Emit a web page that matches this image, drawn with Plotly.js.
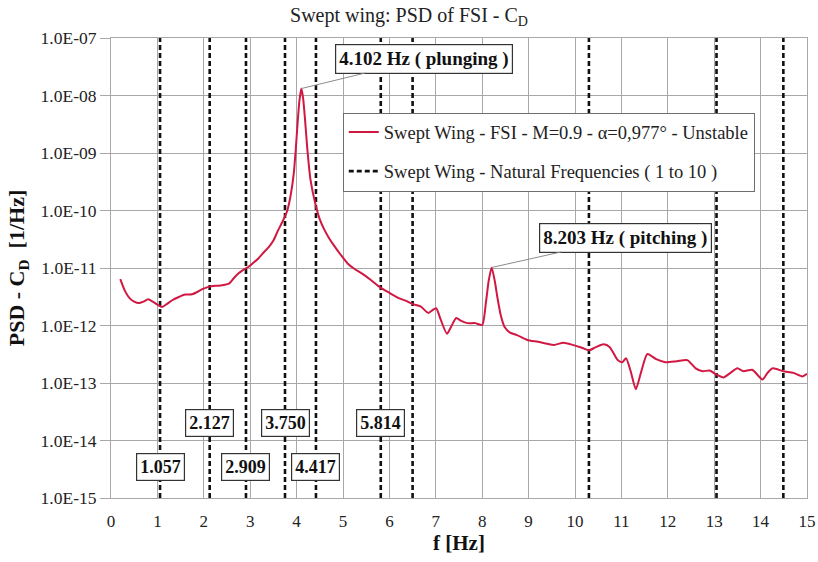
<!DOCTYPE html>
<html>
<head>
<meta charset="utf-8">
<script src="https://cdn.plot.ly/plotly-3.0.1.min.js"></script>
<style>
  html, body { margin: 0; padding: 0; background: #ffffff; }
  #chart { width: 818px; height: 562px; }
</style>
</head>
<body>
<div id="chart"></div>
<script>
// Power spectral density of the drag coefficient (FSI run)
const freq = [
  0.20, 0.30, 0.40, 0.50, 0.60, 0.70, 0.80, 0.90, 1.00, 1.10,
  1.20, 1.32, 1.45, 1.60, 1.75, 1.85, 1.97, 2.10, 2.25, 2.40,
  2.55, 2.65, 2.75, 2.85, 2.95, 3.05, 3.18, 3.30, 3.40, 3.50,
  3.60, 3.70, 3.80, 3.88, 3.94, 3.98, 4.02, 4.06, 4.102, 4.14,
  4.18, 4.23, 4.30, 4.40, 4.50, 4.60, 4.70, 4.80, 4.95, 5.10,
  5.25, 5.42, 5.60, 5.80, 6.00, 6.20, 6.35, 6.50, 6.67, 6.84,
  6.93, 7.01, 7.10, 7.24, 7.33, 7.44, 7.55, 7.68, 7.85, 8.00,
  8.08, 8.14, 8.203, 8.27, 8.33, 8.40, 8.48, 8.60, 8.75, 8.97,
  9.20, 9.40, 9.55, 9.75, 9.95, 10.15, 10.30, 10.45, 10.62, 10.75,
  10.92, 11.02, 11.10, 11.20, 11.31, 11.42, 11.56, 11.75, 11.95, 12.20,
  12.42, 12.60, 12.75, 12.90, 13.05, 13.20, 13.35, 13.50, 13.63, 13.82,
  14.04, 14.15, 14.26, 14.49, 14.71, 14.90, 15.00
];
const psd = [
  6.4e-12, 4.0e-12, 3.0e-12, 2.6e-12, 2.45e-12, 2.6e-12, 2.85e-12, 2.6e-12, 2.3e-12, 2.1e-12,
  2.35e-12, 2.75e-12, 3.1e-12, 3.45e-12, 3.5e-12, 3.8e-12, 4.3e-12, 4.7e-12, 4.9e-12, 5.0e-12,
  5.4e-12, 6.7e-12, 8.1e-12, 9.3e-12, 1.03e-11, 1.2e-11, 1.48e-11, 1.9e-11, 2.3e-11, 3.0e-11,
  4.5e-11, 6.5e-11, 1.0e-10, 2.0e-10, 4.5e-10, 1.1e-9, 3.2e-9, 8.0e-9, 1.32e-8, 9.0e-9,
  4.0e-9, 1.2e-9, 3.4e-10, 1.35e-10, 7.0e-11, 4.6e-11, 3.3e-11, 2.5e-11, 1.7e-11, 1.2e-11,
  9.6e-12, 7.9e-12, 6.2e-12, 4.6e-12, 3.7e-12, 3.0e-12, 2.7e-12, 2.35e-12, 2.15e-12, 1.65e-12,
  1.85e-12, 2.0e-12, 1.3e-12, 7.2e-13, 9.5e-13, 1.35e-12, 1.2e-12, 1.1e-12, 1.1e-12, 1.02e-12,
  2.5e-12, 6.0e-12, 1.02e-11, 6.0e-12, 3.0e-12, 1.5e-12, 9.5e-13, 7.5e-13, 6.8e-13, 5.6e-13,
  5.2e-13, 4.8e-13, 4.6e-13, 5.0e-13, 4.6e-13, 4.1e-13, 3.7e-13, 4.2e-13, 4.7e-13, 4.2e-13,
  2.5e-13, 2.3e-13, 2.7e-13, 1.6e-13, 7.8e-14, 1.5e-13, 3.2e-13, 2.6e-13, 2.3e-13, 2.4e-13,
  2.5e-13, 1.8e-13, 1.6e-13, 1.65e-13, 1.4e-13, 1.25e-13, 1.5e-13, 1.8e-13, 1.6e-13, 1.7e-13,
  1.15e-13, 1.5e-13, 1.8e-13, 1.6e-13, 1.5e-13, 1.3e-13, 1.45e-13
];

// Structural natural frequencies (modes 1 to 10), first six are labelled
const naturalFreq = [1.057, 2.127, 2.909, 3.750, 4.417, 5.814, 6.50, 10.30, 13.05, 14.49];
const labelFreq = [1.057, 2.127, 2.909, 3.750, 4.417, 5.814];
const labelText = ['1.057', '2.127', '2.909', '3.750', '4.417', '5.814'];
const labelRow = ['low', 'high', 'low', 'high', 'low', 'high'];

// Dominant response peaks
const peakFreq = [4.102, 8.203];
const peakPsd = [1.32e-8, 1.02e-11];
const peakText = ['4.102 Hz ( plunging )', '8.203 Hz ( pitching )'];

const yTickVals = [1e-15, 1e-14, 1e-13, 1e-12, 1e-11, 1e-10, 1e-9, 1e-8, 1e-7];
const yTickText = ['1.0E-15', '1.0E-14', '1.0E-13', '1.0E-12', '1.0E-11', '1.0E-10', '1.0E-09', '1.0E-08', '1.0E-07'];
const xTickVals = [0, 1, 2, 3, 4, 5, 6, 7, 8, 9, 10, 11, 12, 13, 14, 15];

const yMin = 1e-15, yMax = 1e-7;

const serif = 'Liberation Serif, Times New Roman, serif';

// vertical dashed lines, one segment per mode
const nfX = [], nfY = [];
naturalFreq.forEach(f => { nfX.push(f, f, null); nfY.push(yMin, yMax, null); });

const traces = [
  {
    x: nfX, y: nfY, mode: 'lines', type: 'scatter',
    name: 'Swept Wing - Natural Frequencies ( 1 to 10 )',
    line: { color: '#111111', width: 2.6, dash: '5px,3px' },
    legendrank: 2, legendgroup: 'nf', hoverinfo: 'skip'
  },
  {
    x: freq, y: psd, mode: 'lines', type: 'scatter',
    name: 'Swept Wing - FSI - M=0.9 - α=0,977° - Unstable',
    line: { color: '#d01842', width: 2, shape: 'spline', smoothing: 0.6 },
    legendrank: 1, legendgroup: 'fsi'
  }
];

const annotations = [];
labelFreq.forEach((f, i) => {
  annotations.push({
    x: f, y: labelRow[i] === 'high' ? -13.70 : -14.46,
    xref: 'x', yref: 'y', text: labelText[i], showarrow: false,
    font: { family: serif, size: 18, color: '#111111', weight: 'bold' },
    bgcolor: '#ffffff', bordercolor: '#333333', borderwidth: 1.2, borderpad: 3
  });
});
const peakOffsets = [[123, -30], [134, -30]];
peakFreq.forEach((f, i) => {
  annotations.push({
    x: f, y: Math.log10(peakPsd[i]), xref: 'x', yref: 'y',
    text: peakText[i], showarrow: true, arrowhead: 0, arrowwidth: 1,
    arrowcolor: '#8c8c8c', ax: peakOffsets[i][0], ay: peakOffsets[i][1],
    font: { family: serif, size: 19, color: '#111111', weight: 'bold' },
    bgcolor: '#ffffff', bordercolor: '#333333', borderwidth: 1.2, borderpad: 3
  });
});

const layout = {
  width: 818, height: 562,
  margin: { l: 111, r: 11, t: 38, b: 64 },
  paper_bgcolor: '#ffffff', plot_bgcolor: '#ffffff',
  font: { family: serif, color: '#222222' },
  title: {
    text: 'Swept wing: PSD of FSI - C<sub>D</sub>',
    font: { family: serif, size: 20, color: '#222222' },
    x: 0.5, xanchor: 'center', y: 0.973, yanchor: 'middle', yref: 'container'
  },
  xaxis: {
    range: [0, 15], tickvals: xTickVals, ticks: '',
    showgrid: true, gridcolor: '#a8a8a8', gridwidth: 1,
    showline: true, linecolor: '#a8a8a8', mirror: true, zeroline: false,
    tickfont: { family: serif, size: 17, color: '#222222' },
    ticklabelstandoff: 8,
    title: { text: 'f [Hz]', font: { family: serif, size: 21, color: '#111111', weight: 'bold' }, standoff: 4 }
  },
  yaxis: {
    type: 'log', range: [-15, -7], tickvals: yTickVals, ticktext: yTickText,
    ticks: 'outside', ticklen: 10, tickcolor: '#a8a8a8',
    showgrid: true, gridcolor: '#a8a8a8', gridwidth: 1,
    showline: true, linecolor: '#a8a8a8', mirror: true, zeroline: false,
    tickfont: { family: serif, size: 17.5, color: '#222222' },
    title: { text: 'PSD - C<sub>D</sub>  [1/Hz]', font: { family: serif, size: 22, color: '#111111', weight: 'bold' }, standoff: 9 }
  },
  legend: {
    x: 0.333, y: 0.838, xanchor: 'left', yanchor: 'top',
    bgcolor: '#ffffff', bordercolor: '#6e6e6e', borderwidth: 1,
    font: { family: serif, size: 18.5, color: '#222222' },
    traceorder: 'grouped', tracegroupgap: 12, itemwidth: 30
  },
  showlegend: true,
  annotations: annotations
};

Plotly.newPlot('chart', traces, layout, { displayModeBar: false, staticPlot: true });
</script>
</body>
</html>
